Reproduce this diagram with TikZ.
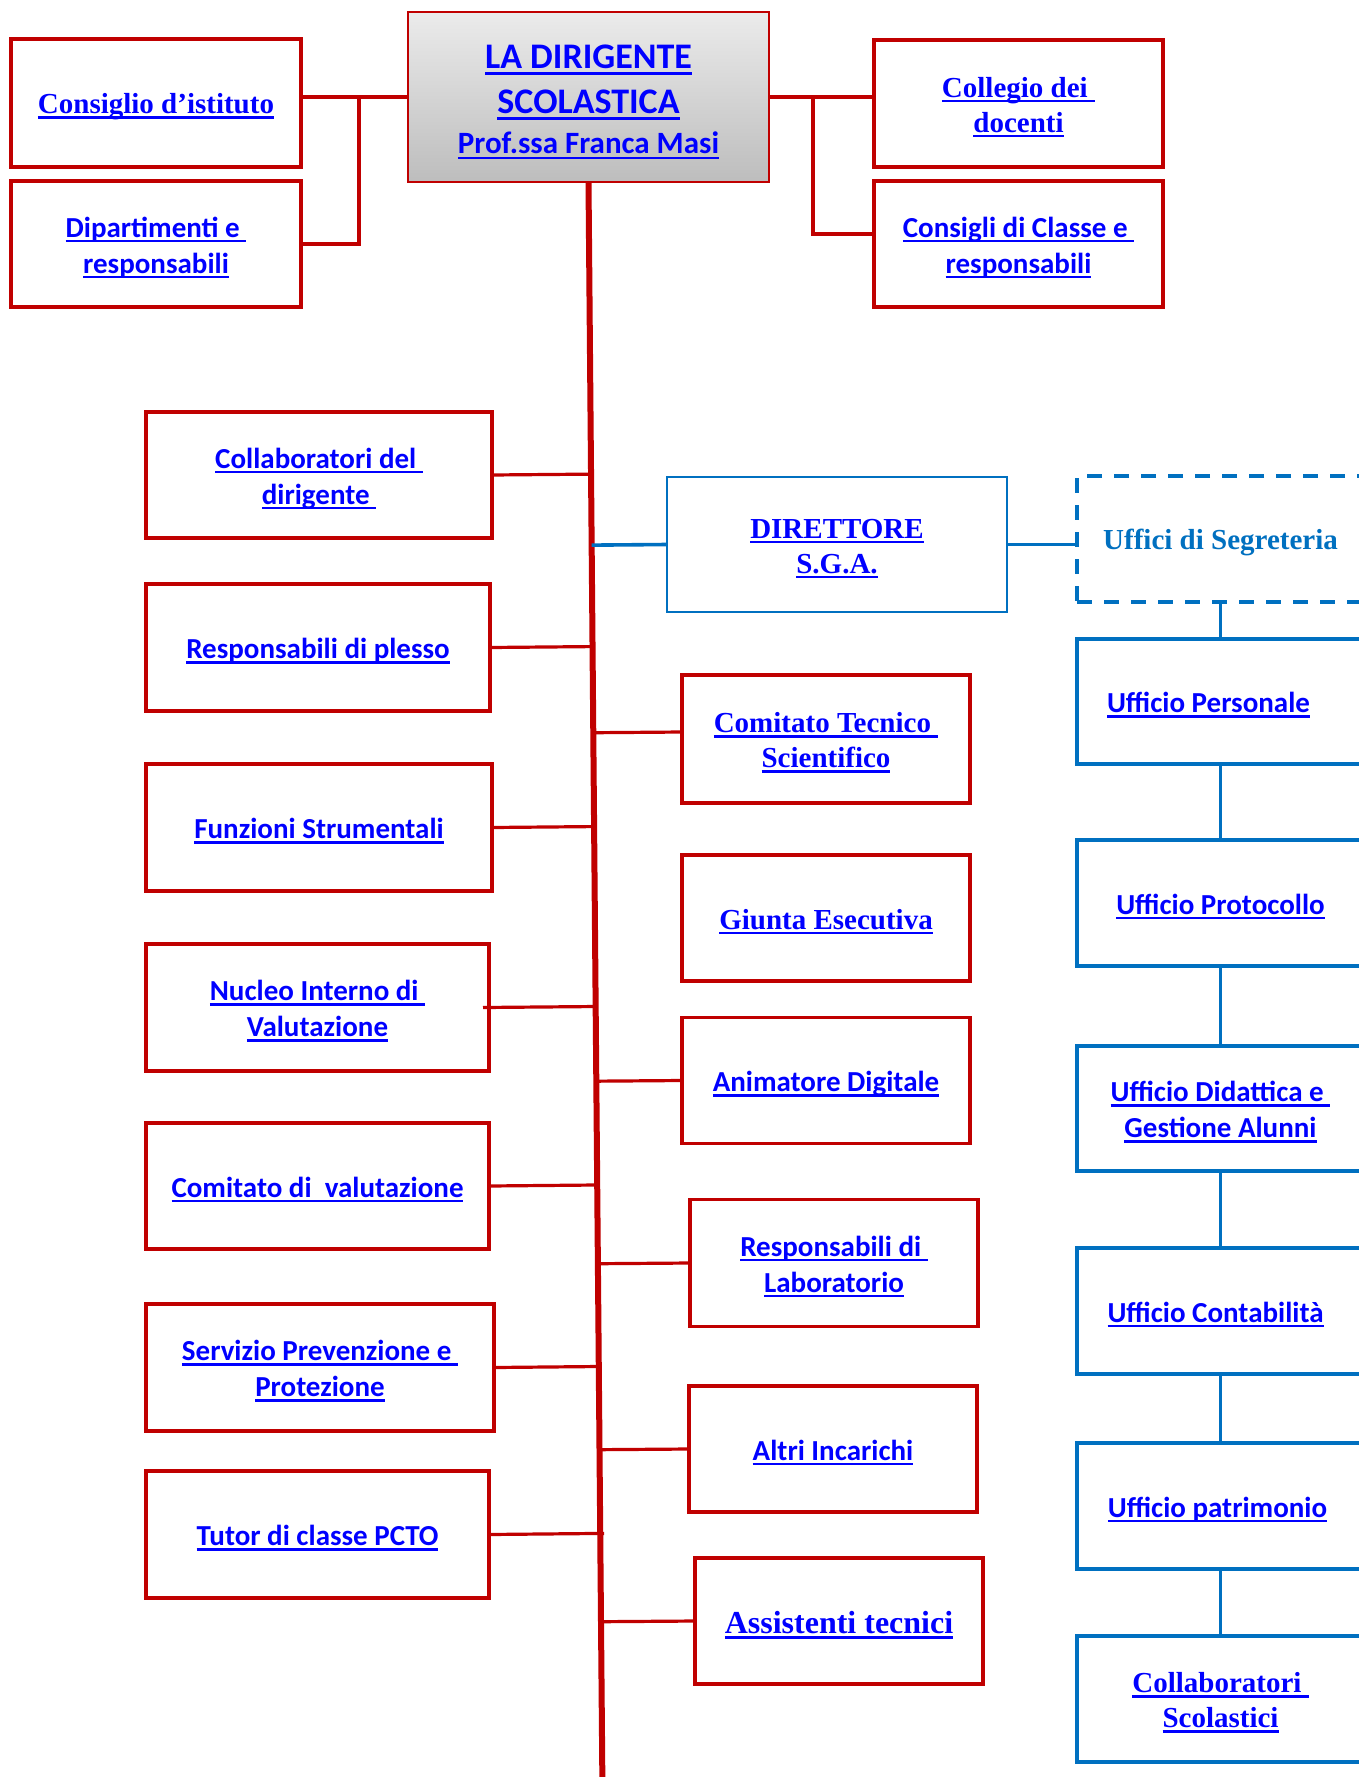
\documentclass[tikz,border=0pt]{standalone}
\usepackage{fontspec}
\setmainfont{Liberation Serif}
\newfontfamily\calfont{Carlito}
\usetikzlibrary{calc}
\definecolor{myred}{HTML}{C00000}
\definecolor{myblue}{HTML}{0070C0}
\definecolor{linkblue}{HTML}{0000FF}
\definecolor{gtop}{HTML}{EBEBEB}
\definecolor{gbot}{HTML}{BDBDBD}
\newsavebox\ubx
\newcommand\U[1]{\sbox\ubx{#1}\rlap{\rule[-0.17em]{\wd\ubx}{0.085em}}\usebox\ubx}
\newcommand\T{\rule{0pt}{0.95em}}
\begin{document}
\begin{tikzpicture}[x=1pt,y=-1pt,
  base/.style={inner sep=0pt, outer sep=0pt, align=center, text=linkblue},
  rbox/.style={base, draw=myred, line width=3.5pt},
  bbox/.style={base, draw=myblue, line width=4pt},
  cal/.style={font=\calfont\bfseries\fontsize{29}{36}\selectfont},
  tim/.style={font=\bfseries\fontsize{29}{35}\selectfont},
  rline/.style={draw=myred, line width=3.2pt},
  bline/.style={draw=myblue, line width=3.6pt},
  trunk/.style={draw=myred, line width=6pt},
  wd/.style={minimum width=#1pt},
  ht/.style={minimum height=#1pt}]
\fill[white] (0,0) rectangle (1358,1777);
\useasboundingbox (0,0) rectangle (1358,1777);

% top row
\node[rbox,tim,wd=290,ht=128] (cons) at (156,103) {\T\U{Consiglio d’istituto}};
\node[rbox,cal,wd=290,ht=126] (dip) at (156,244) {\T\U{Dipartimenti e }\\\U{responsabili}};
\node[base,draw=myred,line width=2.8pt,top color=gtop,bottom color=gbot,wd=361,ht=170,
      font=\calfont\bfseries\fontsize{36}{45}\selectfont] (dir) at (588.5,97)
      {\T\U{LA DIRIGENTE}\\\U{SCOLASTICA}\\[-5pt]{\fontsize{31}{40}\selectfont\U{Prof.ssa Franca Masi}}};
\node[rbox,tim,wd=289,ht=127] (coll) at (1018.5,103.5) {\T\U{Collegio dei }\\\U{docenti}};
\node[rbox,cal,wd=289,ht=126] (cdc) at (1018.5,244) {\T\U{Consigli di Classe e }\\\U{responsabili}};

% left column
\node[rbox,cal,wd=346,ht=126] (collab) at (319,475) {\T\U{Collaboratori del }\\\U{dirigente }};
\node[rbox,cal,wd=344,ht=127] (resp) at (318,647.5) {\T\U{Responsabili di plesso}};
\node[rbox,cal,wd=346,ht=127] (funz) at (319,827.5) {\T\U{Funzioni Strumentali}};
\node[rbox,cal,wd=343,ht=127] (nucleo) at (317.5,1007.5) {\T\U{Nucleo Interno di }\\\U{Valutazione}};
\node[rbox,cal,wd=343,ht=126] (comval) at (317.5,1186) {\T\U{Comitato di\ \ valutazione}};
\node[rbox,cal,wd=348,ht=127] (serv) at (320,1367.5) {\T\U{Servizio Prevenzione e }\\\U{Protezione}};
\node[rbox,cal,wd=343,ht=127] (tutor) at (317.5,1534.5) {\T\U{Tutor di classe PCTO}};

% middle column
\node[base,draw=myblue,line width=2.8pt,tim,wd=340,ht=135] (dsga) at (837,544.5) {\T\U{DIRETTORE}\\\U{S.G.A.}};
\node[rbox,tim,wd=288,ht=128] (cts) at (826,739) {\T\U{Comitato Tecnico }\\\U{Scientifico}};
\node[rbox,tim,wd=288,ht=126] (giunta) at (826,918) {\T\U{Giunta Esecutiva}};
\node[rbox,cal,wd=288,ht=126] (anim) at (826,1080.5) {\T\U{Animatore Digitale}};
\node[rbox,cal,wd=288,ht=127] (rlab) at (834,1263) {\T\U{Responsabili di }\\\U{Laboratorio}};
\node[rbox,cal,wd=288,ht=126] (altri) at (833,1449) {\T\U{Altri Incarichi}};
\node[rbox,font=\bfseries\fontsize{32}{38}\selectfont,wd=288,ht=126] (assist) at (839,1621) {\T\U{Assistenti tecnici}};

% right column
\node[base,draw=myblue,line width=3.6pt,dash pattern=on 15pt off 12pt,tim,text=myblue,wd=287,ht=126] (seg) at (1220.5,539) {\T Uffici di Segreteria};
\node[bbox,cal,wd=287,ht=125] (upers) at (1220.5,701.5) {\T\U{Ufficio Personale}\hspace*{24pt}};
\node[bbox,cal,wd=287,ht=126] (uprot) at (1220.5,903) {\T\U{Ufficio Protocollo}};
\node[bbox,cal,wd=287,ht=125] (udid) at (1220.5,1108.5) {\T\U{Ufficio Didattica e }\\\U{Gestione Alunni}};
\node[bbox,cal,wd=287,ht=126] (ucont) at (1220.5,1311) {\T\U{Ufficio Contabilità}\hspace*{10pt}};
\node[bbox,cal,wd=287,ht=126] (upatr) at (1220.5,1506) {\T\U{Ufficio patrimonio}\hspace*{6pt}};
\node[bbox,tim,wd=287,ht=126] (ucoll) at (1220.5,1699) {\T\U{Collaboratori }\\\U{Scolastici}};

% junction points and trunk end
\coordinate (lj) at (359,97);
\coordinate (rj) at (813,97);
\coordinate (tbot) at (602.5,1795);

% top connectors
\draw[rline] (cons.east |- dir.west) -- (dir.west);
\draw[rline] (dip.east) -| (lj);
\draw[rline] (dir.east) -- (dir.east -| coll.west);
\draw[rline] ([yshift=10pt]cdc.west) -| (rj);

% trunk
\draw[trunk] (dir.south) -- (tbot);

% left connectors
\draw[rline] (collab.east) -- ($(dir.south)!(collab.east)!(tbot)$);
\draw[rline] (resp.east) -- ($(dir.south)!(resp.east)!(tbot)$);
\draw[rline] (funz.east) -- ($(dir.south)!(funz.east)!(tbot)$);
\draw[rline] ([xshift=-6pt]nucleo.east) -- ($(dir.south)!(nucleo.east)!(tbot)$);
\draw[rline] (comval.east) -- ($(dir.south)!(comval.east)!(tbot)$);
\draw[rline] (serv.east) -- ($(dir.south)!(serv.east)!(tbot)$);
\draw[rline] (tutor.east) -- ($(dir.south)!(tutor.east)!(tbot)$) -- ++(4,0);

% right connectors
\draw[bline] ($(dir.south)!(dsga.west)!(tbot)$) -- (dsga.west);
\draw[rline] ($(dir.south)!([yshift=7pt]cts.west)!(tbot)$) -- ([yshift=7pt]cts.west);
\draw[rline] ($(dir.south)!(anim.west)!(tbot)$) -- (anim.west);
\draw[rline] ($(dir.south)!(rlab.west)!(tbot)$) -- (rlab.west);
\draw[rline] ($(dir.south)!(altri.west)!(tbot)$) -- (altri.west);
\draw[rline] ($(dir.south)!(assist.west)!(tbot)$) -- (assist.west);

% blue chain
\draw[bline] (dsga.east) -- (dsga.east -| seg.west);
\draw[bline] (seg.south) -- (upers.north);
\draw[bline] (upers.south) -- (uprot.north);
\draw[bline] (uprot.south) -- (udid.north);
\draw[bline] (udid.south) -- (ucont.north);
\draw[bline] (ucont.south) -- (upatr.north);
\draw[bline] (upatr.south) -- (ucoll.north);
\end{tikzpicture}
\end{document}
